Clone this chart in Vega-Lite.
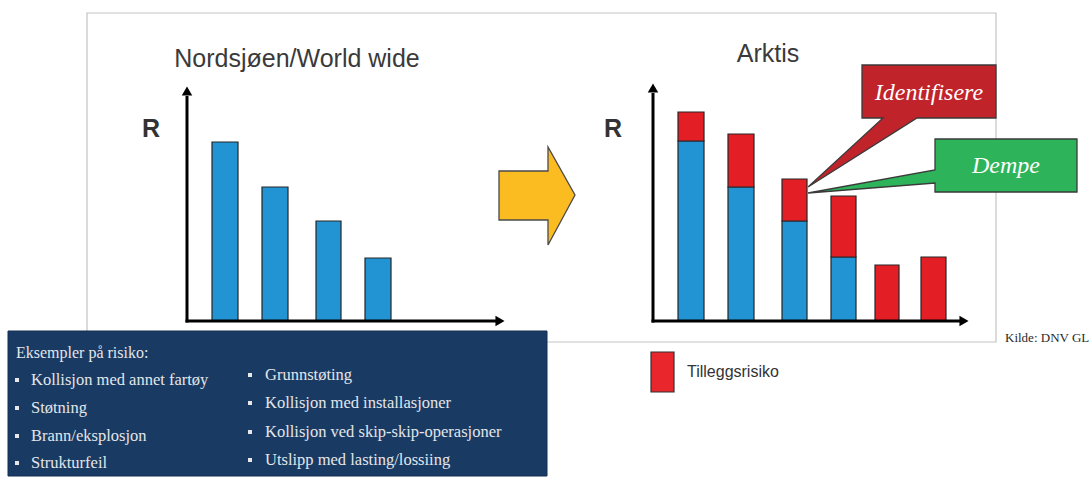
{
  "$schema": "https://vega.github.io/schema/vega-lite/v6.json",
  "width": 1090,
  "height": 477,
  "padding": 0,
  "autosize": {"type": "fit", "contains": "padding"},
  "background": "white",
  "config": {"view": {"stroke": null}},
  "datasets": {
    "frame": [{"x": 87, "x2": 996, "y": 308, "y2": -21}],
    "navybox": [{"x": 8, "x2": 547, "y": -10, "y2": -155}],
    "bars": [
      {"panel": "Nordsjøen/World wide", "bar": 1, "x": 212, "x2": 238, "y": 179, "y2": 0, "type": "Basisrisiko"},
      {"panel": "Nordsjøen/World wide", "bar": 2, "x": 262, "x2": 288, "y": 134, "y2": 0, "type": "Basisrisiko"},
      {"panel": "Nordsjøen/World wide", "bar": 3, "x": 316, "x2": 341, "y": 100, "y2": 0, "type": "Basisrisiko"},
      {"panel": "Nordsjøen/World wide", "bar": 4, "x": 365, "x2": 391, "y": 63, "y2": 0, "type": "Basisrisiko"},
      {"panel": "Arktis", "bar": 1, "x": 678, "x2": 704, "y": 180, "y2": 0, "type": "Basisrisiko"},
      {"panel": "Arktis", "bar": 1, "x": 678, "x2": 704, "y": 209, "y2": 180, "type": "Tilleggsrisiko"},
      {"panel": "Arktis", "bar": 2, "x": 728, "x2": 754, "y": 134, "y2": 0, "type": "Basisrisiko"},
      {"panel": "Arktis", "bar": 2, "x": 728, "x2": 754, "y": 187, "y2": 134, "type": "Tilleggsrisiko"},
      {"panel": "Arktis", "bar": 3, "x": 782, "x2": 807, "y": 100, "y2": 0, "type": "Basisrisiko"},
      {"panel": "Arktis", "bar": 3, "x": 782, "x2": 807, "y": 142, "y2": 100, "type": "Tilleggsrisiko"},
      {"panel": "Arktis", "bar": 4, "x": 831, "x2": 856, "y": 64, "y2": 0, "type": "Basisrisiko"},
      {"panel": "Arktis", "bar": 4, "x": 831, "x2": 856, "y": 125, "y2": 64, "type": "Tilleggsrisiko"},
      {"panel": "Arktis", "bar": 5, "x": 875, "x2": 899, "y": 56, "y2": 0, "type": "Tilleggsrisiko"},
      {"panel": "Arktis", "bar": 6, "x": 921, "x2": 946, "y": 64, "y2": 0, "type": "Tilleggsrisiko"}
    ],
    "axes": [
      {"x": 187, "x2": 187, "y": -1.5, "y2": 225},
      {"x": 185.5, "x2": 496, "y": 0, "y2": 0},
      {"x": 653, "x2": 653, "y": -1.5, "y2": 228},
      {"x": 651.5, "x2": 960, "y": 0, "y2": 0}
    ],
    "arrowheads": [
      {"x": 187, "y": 230, "dir": "up"},
      {"x": 500, "y": 0, "dir": "right"},
      {"x": 653, "y": 233, "dir": "up"},
      {"x": 964, "y": 0, "dir": "right"}
    ],
    "polygons": [
      {"shape": "pil", "x": 499, "y": 150, "y2": 101},
      {"shape": "pil", "x": 548, "y": 150, "y2": 101},
      {"shape": "pil", "x": 548.01, "y": 174, "y2": 76},
      {"shape": "pil", "x": 575, "y": 126, "y2": 126},
      {"shape": "dempe", "x": 808, "y": 128, "y2": 128},
      {"shape": "dempe", "x": 934.99, "y": 151, "y2": 138},
      {"shape": "dempe", "x": 935, "y": 182, "y2": 129},
      {"shape": "dempe", "x": 1077, "y": 182, "y2": 129},
      {"shape": "identifisere", "y": 256, "x": 862, "x2": 996},
      {"shape": "identifisere", "y": 203.01, "x": 862, "x2": 996},
      {"shape": "identifisere", "y": 203, "x": 883, "x2": 917},
      {"shape": "identifisere", "y": 134, "x": 808, "x2": 808}
    ],
    "titles": [
      {"text": "Nordsjøen/World wide", "x": 297, "y": 254},
      {"text": "Arktis", "x": 768, "y": 259}
    ],
    "rlabels": [
      {"text": "R", "x": 151, "y": 184},
      {"text": "R", "x": 613, "y": 184}
    ],
    "callouttext": [
      {"text": "Identifisere", "x": 929, "y": 228},
      {"text": "Dempe", "x": 1006, "y": 155}
    ],
    "legend": [{"x": 651, "x2": 674, "y": -31, "y2": -71, "tx": 687, "ty": -56, "label": "Tilleggsrisiko"}],
    "source": [{"text": "Kilde: DNV GL", "x": 1005, "y": -21}],
    "heading": [{"text": "Eksempler på risiko:", "x": 16, "y": -32}],
    "items": [
      {"text": "Kollisjon med annet fartøy", "col": 1, "x": 31, "bx": 17, "y": -59},
      {"text": "Støtning", "col": 1, "x": 31, "bx": 17, "y": -87},
      {"text": "Brann/eksplosjon", "col": 1, "x": 31, "bx": 17, "y": -115},
      {"text": "Strukturfeil", "col": 1, "x": 31, "bx": 17, "y": -142},
      {"text": "Grunnstøting", "col": 2, "x": 265, "bx": 250, "y": -54},
      {"text": "Kollisjon med installasjoner", "col": 2, "x": 265, "bx": 250, "y": -82},
      {"text": "Kollisjon ved skip-skip-operasjoner", "col": 2, "x": 265, "bx": 250, "y": -111},
      {"text": "Utslipp med lasting/lossiing", "col": 2, "x": 265, "bx": 250, "y": -139}
    ]
  },
  "encoding": {
    "x": {"field": "x", "type": "quantitative", "scale": {"domain": [0, 1090], "nice": false, "zero": false}, "axis": null},
    "y": {"field": "y", "type": "quantitative", "scale": {"domain": [-156, 321], "nice": false, "zero": false}, "axis": null}
  },
  "layer": [
    {
      "data": {"name": "frame"},
      "mark": {"type": "rect", "fill": null, "stroke": "#c4c4c4", "strokeWidth": 1.2},
      "encoding": {"x2": {"field": "x2"}, "y2": {"field": "y2"}}
    },
    {
      "data": {"name": "navybox"},
      "mark": {"type": "rect", "fill": "#183a63", "stroke": "#142f52", "strokeWidth": 1},
      "encoding": {"x2": {"field": "x2"}, "y2": {"field": "y2"}}
    },
    {
      "data": {"name": "bars"},
      "mark": {"type": "rect", "stroke": "#262626", "strokeWidth": 1.2},
      "encoding": {
        "x2": {"field": "x2"},
        "y2": {"field": "y2"},
        "color": {"field": "type", "type": "nominal", "scale": {"domain": ["Basisrisiko", "Tilleggsrisiko"], "range": ["#2394d3", "#e31e25"]}, "legend": null}
      }
    },
    {
      "data": {"name": "axes"},
      "mark": {"type": "rule", "stroke": "#000000", "strokeWidth": 3},
      "encoding": {"x2": {"field": "x2"}, "y2": {"field": "y2"}}
    },
    {
      "data": {"name": "arrowheads"},
      "mark": {"type": "point", "filled": true, "fill": "#000000", "opacity": 1, "size": 110},
      "encoding": {
        "shape": {"field": "dir", "type": "nominal", "scale": {"domain": ["up", "right"], "range": ["triangle-up", "triangle-right"]}, "legend": null}
      }
    },
    {
      "data": {"name": "polygons"},
      "transform": [{"filter": "datum.shape === 'pil'"}],
      "mark": {"type": "area", "orient": "vertical", "fill": "#fbbc22", "stroke": "#4a4a4a", "strokeWidth": 1.3, "opacity": 1},
      "encoding": {"y2": {"field": "y2"}}
    },
    {
      "data": {"name": "polygons"},
      "transform": [{"filter": "datum.shape === 'dempe'"}],
      "mark": {"type": "area", "orient": "vertical", "fill": "#2db45a", "stroke": "#3a3a3a", "strokeWidth": 1.3, "opacity": 1},
      "encoding": {"y2": {"field": "y2"}}
    },
    {
      "data": {"name": "polygons"},
      "transform": [{"filter": "datum.shape === 'identifisere'"}],
      "mark": {"type": "area", "orient": "horizontal", "fill": "#c1232b", "stroke": "#3a3a3a", "strokeWidth": 1.3, "opacity": 1},
      "encoding": {"x2": {"field": "x2"}}
    },
    {
      "data": {"name": "titles"},
      "mark": {"type": "text", "font": "Liberation Sans", "fontSize": 25, "fill": "#3a3a3a", "align": "center", "baseline": "alphabetic"},
      "encoding": {"text": {"field": "text"}}
    },
    {
      "data": {"name": "rlabels"},
      "mark": {"type": "text", "font": "Liberation Sans", "fontSize": 25, "fontWeight": "bold", "fill": "#333333", "align": "center", "baseline": "alphabetic"},
      "encoding": {"text": {"field": "text"}}
    },
    {
      "data": {"name": "callouttext"},
      "mark": {"type": "text", "font": "Liberation Serif", "fontSize": 24, "fontStyle": "italic", "fill": "#ffffff", "align": "center", "baseline": "middle"},
      "encoding": {"text": {"field": "text"}}
    },
    {
      "data": {"name": "legend"},
      "mark": {"type": "rect", "fill": "#e8262b", "stroke": "#333333", "strokeWidth": 1.2},
      "encoding": {"x2": {"field": "x2"}, "y2": {"field": "y2"}}
    },
    {
      "data": {"name": "legend"},
      "mark": {"type": "text", "font": "Liberation Sans", "fontSize": 16, "fill": "#333333", "align": "left", "baseline": "alphabetic"},
      "encoding": {"x": {"field": "tx", "type": "quantitative"}, "y": {"field": "ty", "type": "quantitative"}, "text": {"field": "label"}}
    },
    {
      "data": {"name": "source"},
      "mark": {"type": "text", "font": "Liberation Serif", "fontSize": 13, "fill": "#2a2a2a", "align": "left", "baseline": "alphabetic"},
      "encoding": {"text": {"field": "text"}}
    },
    {
      "data": {"name": "heading"},
      "mark": {"type": "text", "font": "Liberation Serif", "fontSize": 16, "fill": "#e4e6ea", "align": "left", "baseline": "middle"},
      "encoding": {"text": {"field": "text"}}
    },
    {
      "data": {"name": "items"},
      "mark": {"type": "square", "filled": true, "fill": "#e8e8e8", "opacity": 1, "size": 16},
      "encoding": {"x": {"field": "bx", "type": "quantitative"}}
    },
    {
      "data": {"name": "items"},
      "mark": {"type": "text", "font": "Liberation Serif", "fontSize": 16.5, "fill": "#e4e6ea", "align": "left", "baseline": "middle"},
      "encoding": {"text": {"field": "text"}}
    }
  ]
}
